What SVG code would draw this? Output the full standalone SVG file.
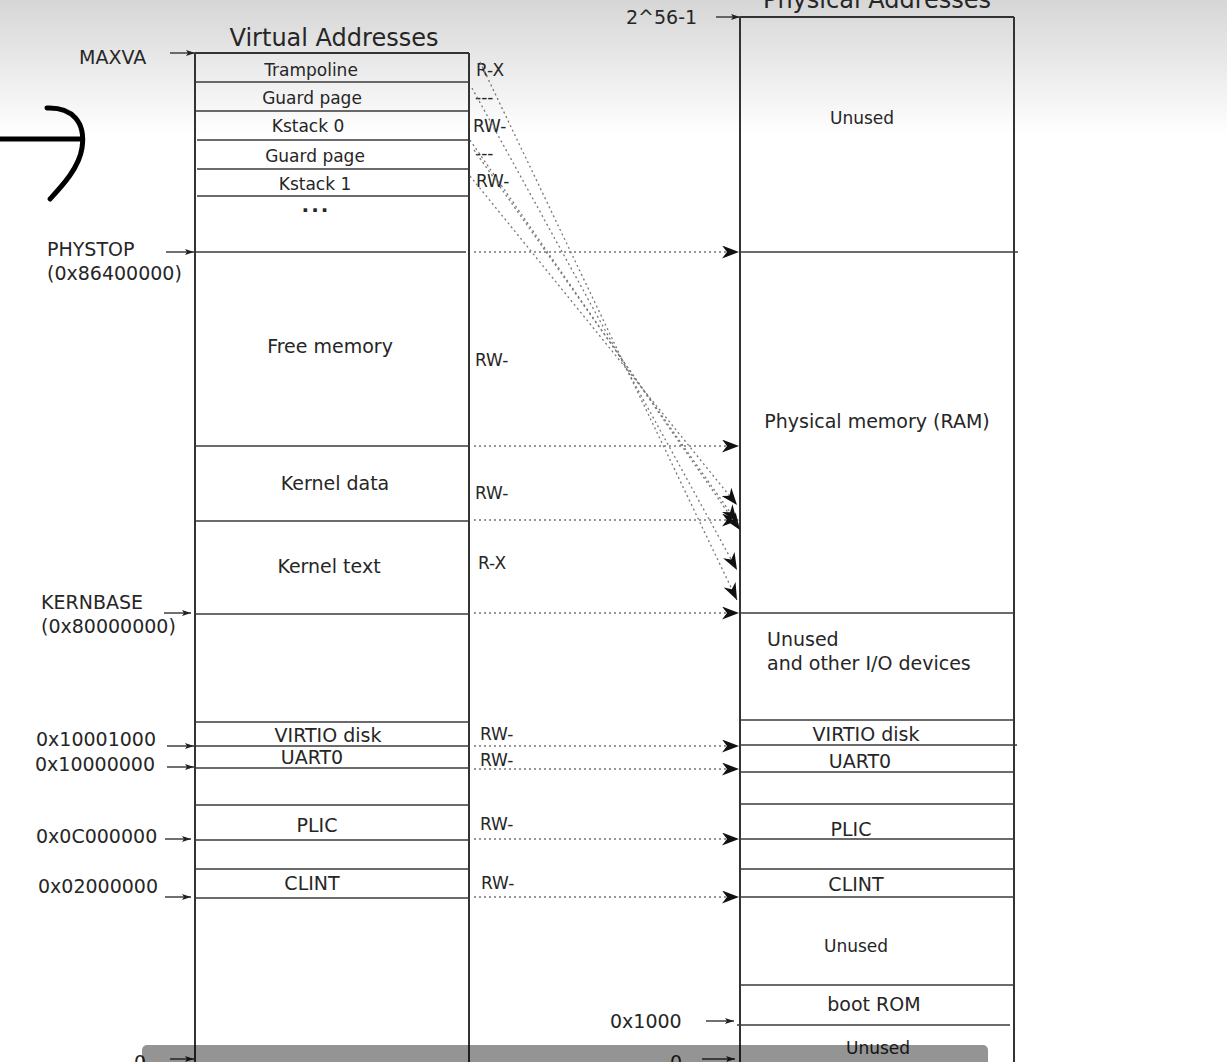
<svg xmlns="http://www.w3.org/2000/svg" width="1227" height="1062" viewBox="0 0 1227 1062">
<defs>
<linearGradient id="bg" x1="0" y1="0" x2="0" y2="1">
<stop offset="0" stop-color="#d6d6d6"/>
<stop offset="1" stop-color="#ffffff"/>
</linearGradient>
<marker id="big" viewBox="0 0 17 13" refX="17" refY="6.5" markerWidth="17" markerHeight="13" markerUnits="userSpaceOnUse" orient="auto">
<path d="M0,0 L17,6.5 L0,13 L5,6.5 z" fill="#111"/>
</marker>
<marker id="small" viewBox="0 0 9 6" refX="9" refY="3" markerWidth="9" markerHeight="6" markerUnits="userSpaceOnUse" orient="auto">
<path d="M0,0 L9,3 L0,6 L2,3 z" fill="#222"/>
</marker>
</defs>
<style>
text{font-family:"DejaVu Sans","Liberation Sans",sans-serif;fill:#262626}
.t24{font-size:24px}
.t19{font-size:19px}
.t17{font-size:17px}
.c{text-anchor:middle}
.box{fill:none;stroke:#333;stroke-width:2}
.div{stroke:#3a3a3a;stroke-width:1.6}
.dot{stroke:#777;stroke-width:1.3;stroke-dasharray:2 3;fill:none}
.ptr{stroke:#333;stroke-width:1.4;fill:none}
</style>
<rect x="0" y="0" width="1227" height="135" fill="url(#bg)"/>
<rect x="0" y="135" width="1227" height="927" fill="#fff"/>

<g id="handstroke" fill="none" stroke="#000" stroke-width="5" stroke-linecap="round">
<path d="M0,139 L80,139"/>
<path d="M47,108 C72,107 86,122 82,148 C79,168 62,186 50,199"/>
</g>

<g id="virtual">
<text class="t24 c" x="334" y="46">Virtual Addresses</text>
<line class="box" x1="195" y1="53" x2="469" y2="53"/>
<line class="box" x1="195" y1="53" x2="195" y2="1062"/>
<line class="box" x1="469" y1="53" x2="469" y2="1062"/>
<g id="v-trampoline"><text class="t17 c" x="311" y="76">Trampoline</text><line class="div" x1="196" y1="82" x2="469" y2="82"/></g>
<g id="v-guard0"><text class="t17 c" x="312" y="104">Guard page</text><line class="div" x1="196" y1="111" x2="469" y2="111"/></g>
<g id="v-kstack0"><text class="t17 c" x="308" y="132">Kstack 0</text><line class="div" x1="197" y1="140" x2="469" y2="140"/></g>
<g id="v-guard1"><text class="t17 c" x="315" y="162">Guard page</text><line class="div" x1="197" y1="169" x2="469" y2="169"/></g>
<g id="v-kstack1"><text class="t17 c" x="315" y="190">Kstack 1</text><line class="div" x1="197" y1="196" x2="469" y2="196"/></g>
<text class="c" x="316" y="212" style="font-size:20px;font-weight:bold;letter-spacing:2px">...</text>
<line class="div" x1="196" y1="252" x2="466" y2="252"/>
<g id="v-free"><text class="t19 c" x="330" y="353">Free memory</text><line class="div" x1="196" y1="446" x2="469" y2="446"/></g>
<g id="v-kdata"><text class="t19 c" x="335" y="490">Kernel data</text><line class="div" x1="196" y1="521" x2="469" y2="521"/></g>
<g id="v-ktext"><text class="t19 c" x="329" y="573">Kernel text</text><line class="div" x1="196" y1="614" x2="469" y2="614"/></g>
<line class="div" x1="196" y1="722" x2="469" y2="722"/>
<g id="v-virtio"><text class="t19 c" x="328" y="742">VIRTIO disk</text><line class="div" x1="196" y1="746" x2="469" y2="746"/></g>
<g id="v-uart"><text class="t19 c" x="312" y="764">UART0</text><line class="div" x1="196" y1="768" x2="469" y2="768"/></g>
<line class="div" x1="196" y1="805" x2="469" y2="805"/>
<g id="v-plic"><text class="t19 c" x="317" y="832">PLIC</text><line class="div" x1="196" y1="840" x2="469" y2="840"/></g>
<line class="div" x1="196" y1="869" x2="469" y2="869"/>
<g id="v-clint"><text class="t19 c" x="312" y="890">CLINT</text><line class="div" x1="196" y1="898" x2="469" y2="898"/></g>
</g>

<g id="perms">
<text class="t17" x="476" y="76">R-X</text>
<text class="t17" x="475" y="103">---</text>
<text class="t17" x="473" y="132">RW-</text>
<text class="t17" x="475" y="159">---</text>
<text class="t17" x="476" y="187">RW-</text>
<text class="t17" x="475" y="366">RW-</text>
<text class="t17" x="475" y="499">RW-</text>
<text class="t17" x="478" y="569">R-X</text>
<text class="t17" x="480" y="740">RW-</text>
<text class="t17" x="480" y="766">RW-</text>
<text class="t17" x="480" y="830">RW-</text>
<text class="t17" x="481" y="889">RW-</text>
</g>

<g id="physical">
<text class="t24 c" x="877" y="8">Physical Addresses</text>
<line class="box" x1="740" y1="17" x2="1014" y2="17"/>
<line class="box" x1="740" y1="17" x2="740" y2="1062"/>
<line class="box" x1="1014" y1="17" x2="1014" y2="1062"/>
<g id="p-unused-top"><text class="t17 c" x="862" y="124">Unused</text><line class="div" x1="740" y1="252" x2="1018" y2="252"/></g>
<g id="p-ram"><text class="t19 c" x="877" y="428">Physical memory (RAM)</text><line class="div" x1="740" y1="613" x2="1014" y2="613"/></g>
<g id="p-io"><text class="t19" x="767" y="646">Unused</text><text class="t19" x="767" y="670">and other I/O devices</text><line class="div" x1="740" y1="720" x2="1014" y2="720"/></g>
<g id="p-virtio"><text class="t19 c" x="866" y="741">VIRTIO disk</text><line class="div" x1="740" y1="745" x2="1017" y2="745"/></g>
<g id="p-uart"><text class="t19 c" x="860" y="768">UART0</text><line class="div" x1="740" y1="772" x2="1014" y2="772"/></g>
<line class="div" x1="740" y1="804" x2="1014" y2="804"/>
<g id="p-plic"><text class="t19 c" x="851" y="836">PLIC</text><line class="div" x1="740" y1="839" x2="1014" y2="839"/></g>
<line class="div" x1="740" y1="869" x2="1014" y2="869"/>
<g id="p-clint"><text class="t19 c" x="856" y="891">CLINT</text><line class="div" x1="740" y1="897" x2="1014" y2="897"/></g>
<g id="p-unused-mid"><text class="t17 c" x="856" y="952">Unused</text><line class="div" x1="740" y1="985" x2="1014" y2="985"/></g>
<g id="p-bootrom"><text class="t19 c" x="874" y="1011">boot ROM</text><line class="div" x1="737" y1="1025" x2="1010" y2="1025"/></g>
<g id="p-unused-bot"><text class="t17 c" x="878" y="1054">Unused</text></g>
</g>

<g id="addr-labels">
<text class="t19" x="79" y="64">MAXVA</text>
<text class="t19" x="47" y="256">PHYSTOP</text>
<text class="t19" x="47" y="280">(0x86400000)</text>
<text class="t19" x="41" y="609">KERNBASE</text>
<text class="t19" x="41" y="633">(0x80000000)</text>
<text class="t19" x="36" y="746">0x10001000</text>
<text class="t19" x="35" y="771">0x10000000</text>
<text class="t19" x="36" y="843">0x0C000000</text>
<text class="t19" x="38" y="893">0x02000000</text>
<text class="t19" x="134" y="1069">0</text>
<text class="t19" x="626" y="24">2^56-1</text>
<text class="t19" x="610" y="1028">0x1000</text>
<text class="t19" x="670" y="1069">0</text>
</g>

<g id="connectors">
<line class="ptr" x1="170" y1="53" x2="195" y2="53" marker-end="url(#small)"/>
<line class="ptr" x1="166" y1="252" x2="194" y2="252" marker-end="url(#small)"/>
<line class="ptr" x1="164" y1="613" x2="191" y2="613" marker-end="url(#small)"/>
<line class="ptr" x1="167" y1="746" x2="194" y2="746" marker-end="url(#small)"/>
<line class="ptr" x1="167" y1="767" x2="194" y2="767" marker-end="url(#small)"/>
<line class="ptr" x1="165" y1="839" x2="191" y2="839" marker-end="url(#small)"/>
<line class="ptr" x1="165" y1="897" x2="191" y2="897" marker-end="url(#small)"/>
<line class="ptr" x1="170" y1="1059" x2="194" y2="1059" marker-end="url(#small)"/>
<line class="ptr" x1="716" y1="17" x2="740" y2="17" marker-end="url(#small)"/>
<line class="ptr" x1="706" y1="1021" x2="734" y2="1021" marker-end="url(#small)"/>
<line class="ptr" x1="702" y1="1059" x2="735" y2="1059" marker-end="url(#small)"/>

<line class="dot" x1="474" y1="252" x2="739" y2="252" marker-end="url(#big)"/>
<line class="dot" x1="474" y1="446" x2="739" y2="446" marker-end="url(#big)"/>
<line class="dot" x1="474" y1="520" x2="739" y2="520" marker-end="url(#big)"/>
<line class="dot" x1="474" y1="613" x2="739" y2="613" marker-end="url(#big)"/>
<line class="dot" x1="474" y1="746" x2="739" y2="746" marker-end="url(#big)"/>
<line class="dot" x1="474" y1="769" x2="739" y2="769" marker-end="url(#big)"/>
<line class="dot" x1="474" y1="839" x2="739" y2="839" marker-end="url(#big)"/>
<line class="dot" x1="474" y1="897" x2="739" y2="897" marker-end="url(#big)"/>

<line class="dot" x1="480" y1="62" x2="737" y2="600" marker-end="url(#big)"/>
<line class="dot" x1="472" y1="88" x2="737" y2="570" marker-end="url(#big)"/>
<line class="dot" x1="470" y1="140" x2="740" y2="530" marker-end="url(#big)"/>
<line class="dot" x1="474" y1="150" x2="737" y2="522" marker-end="url(#big)"/>
<line class="dot" x1="470" y1="176" x2="737" y2="505" marker-end="url(#big)"/>
</g>

<rect id="player-bar" x="142" y="1045" width="846" height="30" rx="5" fill="#000" fill-opacity="0.42"/>
</svg>
